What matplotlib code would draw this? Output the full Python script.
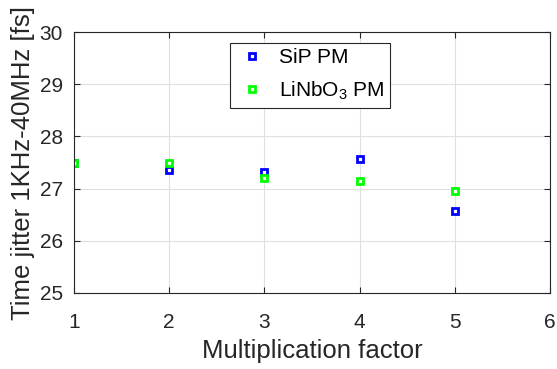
import matplotlib
matplotlib.use("Agg")
import matplotlib.pyplot as plt

plt.rcParams['font.family'] = ['Liberation Sans', 'DejaVu Sans']
plt.rcParams['mathtext.fontset'] = 'custom'
plt.rcParams['mathtext.rm'] = 'Liberation Sans'

factors = [1, 2, 3, 4, 5]
sip_pm = [27.50, 27.35, 27.32, 27.57, 26.57]
linbo3_pm = [27.50, 27.50, 27.21, 27.14, 26.96]
xticks = [1, 2, 3, 4, 5, 6]
yticks = [25, 26, 27, 28, 29, 30]

fig = plt.figure(figsize=(5.57, 3.69), dpi=100)
L, R, T, B = 74, 550, 32, 293
ax = fig.add_axes([L/557, 1 - B/369, (R-L)/557, (B-T)/369])

mk = dict(linestyle='none', marker='s', markersize=4.5, markerfacecolor='white',
          markeredgewidth=2)
ax.plot(factors, sip_pm, markeredgecolor='#0000ff', label='SiP PM', **mk)
ax.plot(factors, linbo3_pm, markeredgecolor='#00ff00', label='LiNbO$_3$ PM', **mk)

ax.set_xlim(1, 6)
ax.set_ylim(25, 30)
ax.set_xticks(xticks)
ax.set_yticks(yticks)
ax.grid(True, color='#e0e0e0', linewidth=0.8)
ax.set_axisbelow(True)
ax.tick_params(direction='in', labelsize=15, length=4, colors='#262626',
               top=True, right=True)
ax.tick_params(axis='x', pad=14.5)
ax.tick_params(axis='y', pad=8)
for s in ax.spines.values():
    s.set_color('#262626')
    s.set_linewidth(0.8)

ax.set_xlabel('Multiplication factor', fontsize=18.5, color='#262626', labelpad=5)
ax.set_ylabel('Time jitter 1KHz-40MHz [fs]', fontsize=18.5, color='#262626', labelpad=3)

leg = ax.legend(loc='upper left', bbox_to_anchor=((230-L)/(R-L), 1 - (43-T)/(B-T)),
                fontsize=15, fancybox=False, edgecolor='#262626',
                framealpha=1, handlelength=1.6, borderpad=0.25, labelspacing=0.6,
                handletextpad=0.5, borderaxespad=0)
leg.get_frame().set_linewidth(0.8)

fig.savefig('out.png', dpi=100)
